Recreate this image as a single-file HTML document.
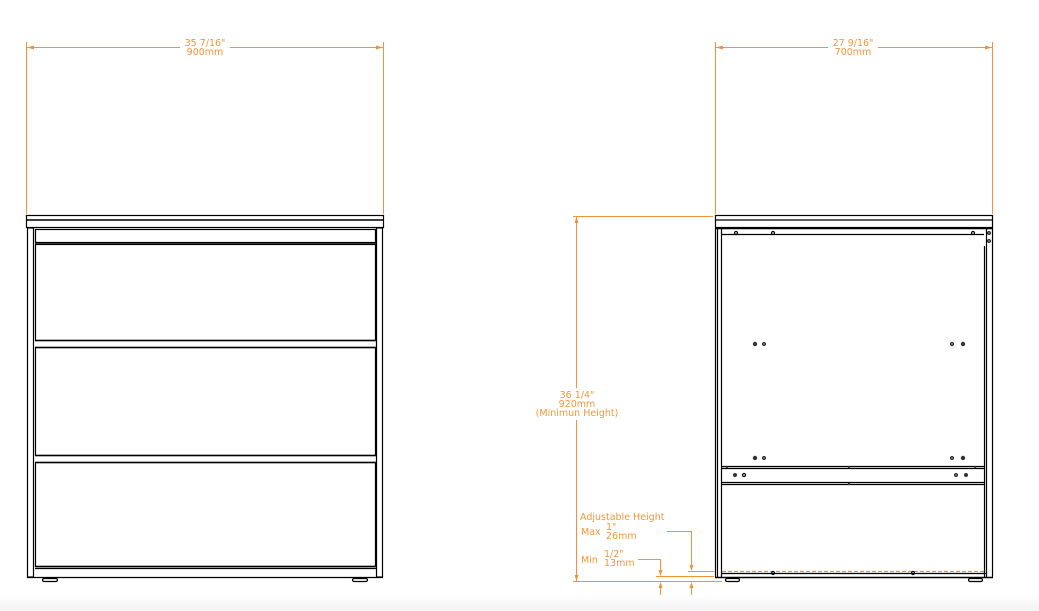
<!DOCTYPE html>
<html><head><meta charset="utf-8"><style>
html,body{margin:0;padding:0;background:#fff;width:1039px;height:611px;overflow:hidden}
svg text{font-family:"DejaVu Sans","Liberation Sans",sans-serif;fill:#f0973a;font-size:9.5px}
</style></head><body>
<svg width="1039" height="611" viewBox="0 0 1039 611" xmlns="http://www.w3.org/2000/svg">
<defs>
<linearGradient id="g" x1="0" y1="0" x2="0" y2="1"><stop offset="0" stop-color="#fff"/><stop offset="1" stop-color="#f3f3f3"/></linearGradient>
</defs>
<rect x="0" y="595" width="1039" height="16" fill="url(#g)"/>
<g stroke="#f0923a" stroke-width="1" fill="none">
<line x1="26.5" y1="42" x2="26.5" y2="214"/><line x1="383.5" y1="42" x2="383.5" y2="214"/>
<line x1="27" y1="47.5" x2="180" y2="47.5"/><line x1="230" y1="47.5" x2="383" y2="47.5"/>
<line x1="715.5" y1="42" x2="715.5" y2="214"/><line x1="992.5" y1="42" x2="992.5" y2="214"/>
<line x1="716" y1="47.5" x2="828" y2="47.5"/><line x1="878" y1="47.5" x2="992" y2="47.5"/>
<line x1="573" y1="216.5" x2="713" y2="216.5"/>
<line x1="576.5" y1="217" x2="576.5" y2="388"/>
<line x1="576.5" y1="420" x2="576.5" y2="581"/>
<line x1="573" y1="581.5" x2="722" y2="581.5"/>
<polyline points="667,531.5 691.5,531.5 691.5,569"/>
<line x1="688" y1="571.5" x2="714" y2="571.5"/>
<polyline points="638,559.5 660.5,559.5 660.5,573"/>
<line x1="656" y1="576.5" x2="714" y2="576.5"/>
<line x1="660.5" y1="586" x2="660.5" y2="595"/>
<line x1="691.5" y1="586" x2="691.5" y2="595"/>
<line x1="722" y1="571.5" x2="986" y2="571.5" stroke-dasharray="4,2" stroke-width="1.2"/>
</g>
<g fill="#f0923a">
<polygon points="27,47.5 34,45.5 34,49.5"/><polygon points="383,47.5 376,45.5 376,49.5"/>
<polygon points="716,47.5 723,45.5 723,49.5"/><polygon points="992,47.5 985,45.5 985,49.5"/>
<polygon points="576.5,217 574.5,223 578.5,223"/><polygon points="576.5,581 574.5,575 578.5,575"/>
<polygon points="691.5,571 689.5,565 693.5,565"/><polygon points="660.5,576 658.5,570 662.5,570"/>
<polygon points="660.5,582 658.5,588 662.5,588"/><polygon points="691.5,582 689.5,588 693.5,588"/>
</g>
<text x="205" y="46" text-anchor="middle">35 7/16"</text>
<text x="205" y="55" text-anchor="middle">900mm</text>
<text x="853" y="46" text-anchor="middle">27 9/16"</text>
<text x="853" y="55" text-anchor="middle">700mm</text>
<text x="577" y="398" text-anchor="middle">36 1/4"</text>
<text x="577" y="407" text-anchor="middle">920mm</text>
<text x="577" y="416" text-anchor="middle">(Minimun Height)</text>
<text x="580" y="520">Adjustable Height</text>
<text x="581" y="535">Max</text>
<text x="606" y="530">1"</text>
<text x="606" y="539">26mm</text>
<text x="581" y="563">Min</text>
<text x="604" y="557">1/2"</text>
<text x="604" y="566">13mm</text>

<g stroke="#000" fill="none" stroke-width="1.2">
<rect x="26.5" y="215.5" width="357" height="12"/>
<line x1="27" y1="220" x2="383" y2="220" stroke-width="1.6"/>
<rect x="27.5" y="228" width="6" height="349"/>
<rect x="376.5" y="228" width="6" height="349"/>
<line x1="27" y1="577.5" x2="383" y2="577.5"/>
<rect x="35.5" y="229.5" width="340" height="13"/>
<line x1="35" y1="244" x2="376" y2="244" stroke-width="1.6"/>
<rect x="35.5" y="244.5" width="340" height="96"/>
<line x1="35" y1="340.5" x2="376" y2="340.5" stroke-width="1.6"/>
<line x1="35" y1="347.5" x2="376" y2="347.5" stroke-width="1.6"/>
<rect x="35.5" y="347.5" width="340" height="108"/>
<line x1="35" y1="455.5" x2="376" y2="455.5" stroke-width="1.6"/>
<line x1="35" y1="462.5" x2="376" y2="462.5" stroke-width="1.6"/>
<rect x="35.5" y="462.5" width="340" height="104"/>
<line x1="35" y1="566.5" x2="376" y2="566.5" stroke-width="1.6"/>
<line x1="35" y1="568.5" x2="376" y2="568.5"/>
<rect x="42.5" y="578.5" width="15" height="3" rx="1.5"/>
<rect x="352.5" y="578.5" width="15" height="3" rx="1.5"/>
<rect x="715.5" y="215.5" width="277" height="12"/>
<line x1="716" y1="220" x2="992" y2="220"/>
<line x1="716" y1="228.5" x2="992" y2="228.5" stroke-width="1.6"/>
<line x1="715.5" y1="228" x2="715.5" y2="577"/>
<line x1="717.5" y1="228" x2="717.5" y2="577"/>
<line x1="721.5" y1="228" x2="721.5" y2="577"/>
<line x1="986.5" y1="228" x2="986.5" y2="577"/>
<line x1="992.5" y1="228" x2="992.5" y2="577"/>
<line x1="984.5" y1="246" x2="984.5" y2="577"/>
<line x1="722" y1="234.5" x2="984" y2="234.5"/>
<line x1="715" y1="577.5" x2="993" y2="577.5" stroke-width="1.6"/>
<line x1="722" y1="573.5" x2="986" y2="573.5"/>
<line x1="722" y1="466.5" x2="985" y2="466.5"/>
<line x1="722" y1="468.5" x2="985" y2="468.5"/>
<line x1="722" y1="482.5" x2="985" y2="482.5"/>
<line x1="722" y1="484.5" x2="985" y2="484.5"/>
<rect x="725.5" y="578.5" width="14" height="3" rx="1.5"/>
<rect x="968.5" y="578.5" width="14" height="3" rx="1.5"/>
<circle cx="736" cy="233" r="1.5"/><circle cx="773" cy="233" r="1.5"/><circle cx="973" cy="233" r="1.5"/>
<circle cx="989" cy="233" r="1.3"/><circle cx="989" cy="241" r="1.3"/>
<circle cx="764" cy="344" r="1.3"/><circle cx="952" cy="344" r="1.3"/>
<circle cx="764" cy="458" r="1.3"/><circle cx="952" cy="458" r="1.3"/>
<circle cx="744" cy="475" r="1.5"/><circle cx="956" cy="475" r="1.3"/>
<circle cx="913" cy="573" r="1.5"/><circle cx="773" cy="573" r="1.5"/>
</g>
<g fill="#333">
<circle cx="755" cy="344" r="2.2"/><circle cx="963" cy="344" r="2.2"/>
<circle cx="755" cy="458" r="2.2"/><circle cx="963" cy="458" r="2.2"/>
<circle cx="735" cy="475" r="2"/><circle cx="966" cy="475" r="2"/>
<circle cx="849" cy="467" r="1.2"/><circle cx="849" cy="484" r="1.2"/>
<circle cx="727" cy="467" r="1.2"/><circle cx="975" cy="467" r="1.2"/>
</g>
</svg>
</body></html>
